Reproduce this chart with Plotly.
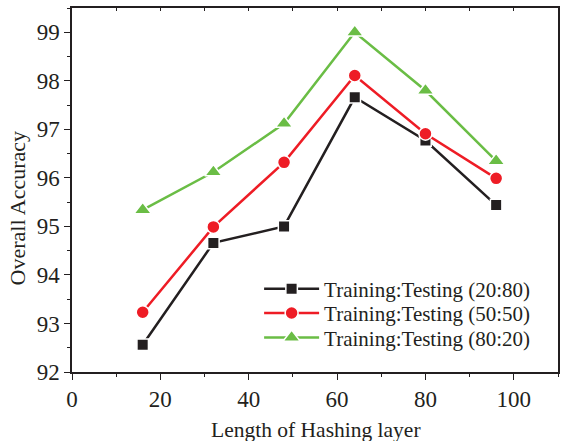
import plotly.graph_objects as go

hash_len = [16, 32, 48, 64, 80, 96]
acc_20_80 = [92.56, 94.66, 95.0, 97.66, 96.77, 95.44]
acc_50_50 = [93.23, 94.99, 96.32, 98.11, 96.91, 95.99]
acc_80_20 = [95.34, 96.12, 97.12, 99.0, 97.8, 96.35]

names = ["Training:Testing (20:80)", "Training:Testing (50:50)", "Training:Testing (80:20)"]
colors = ["#231f20", "#ee1c25", "#6abd45"]
symbols = ["square", "circle", "triangle-up"]
sizes = [11.5, 13, 15]
series = [acc_20_80, acc_50_50, acc_80_20]
legend_ids = ["legend", "legend2", "legend3"]
legend_y = [0.228, 0.161, 0.094]

font = "Liberation Serif, Times New Roman, serif"
ink = "#231f20"

fig = go.Figure()
for n, c, s, sz, ys, lg in zip(names, colors, symbols, sizes, series, legend_ids):
    fig.add_trace(go.Scatter(
        x=hash_len, y=ys, name=n, mode="lines+markers", legend=lg,
        line=dict(color=c, width=2.5),
        marker=dict(symbol=s, size=sz, color=c, line=dict(color="white", width=1.5)),
    ))

legend_common = dict(x=0.385, xanchor="left", yanchor="middle",
                     bgcolor="rgba(0,0,0,0)", font=dict(size=21, family=font, color=ink),
                     itemwidth=55)

fig.update_layout(
    width=561, height=441,
    margin=dict(l=72, r=1, t=8, b=69),
    plot_bgcolor="white", paper_bgcolor="white",
    font=dict(family=font, size=23, color=ink),
    showlegend=True,
    legend=dict(y=legend_y[0], **legend_common),
    legend2=dict(y=legend_y[1], **legend_common),
    legend3=dict(y=legend_y[2], **legend_common),
    xaxis=dict(range=[0, 110], tickvals=[0, 20, 40, 60, 80, 100],
               ticks="outside", ticklen=6, tickwidth=1, tickcolor=ink,
               minor=dict(dtick=10, tick0=0, ticks="outside", ticklen=3, tickcolor=ink),
               showline=True, linecolor=ink, linewidth=1.5, mirror=True,
               showgrid=False, zeroline=False, tickfont=dict(size=23)),
    yaxis=dict(range=[92, 99.5], dtick=1, tick0=92,
               ticks="outside", ticklen=6, tickwidth=1, tickcolor=ink,
               minor=dict(dtick=0.5, ticks="outside", ticklen=3, tickcolor=ink),
               showline=True, linecolor=ink, linewidth=1.5, mirror=True,
               showgrid=False, zeroline=False, tickfont=dict(size=23)),
    xaxis2=dict(range=[0, 110], overlaying="x", side="top", anchor="y",
                tickvals=[0, 10, 20, 30, 40, 50, 60, 70, 80, 90, 100, 110],
                ticks="inside", ticklen=3, tickcolor=ink, showticklabels=False,
                showgrid=False, zeroline=False, showline=False),
    annotations=[
        dict(text="Length of Hashing layer", xref="paper", yref="paper",
             x=0.502, y=-0.159, xanchor="center", yanchor="middle",
             showarrow=False, font=dict(size=21.5, family=font, color=ink)),
        dict(text="Overall Accuracy", xref="paper", yref="paper",
             x=-0.1127, y=0.45, xanchor="center", yanchor="middle", textangle=-90,
             showarrow=False, font=dict(size=22, family=font, color=ink)),
    ],
)
fig.add_trace(go.Scatter(x=[None], y=[None], xaxis="x2", showlegend=False, hoverinfo="skip"))

fig.write_html("out.html")
